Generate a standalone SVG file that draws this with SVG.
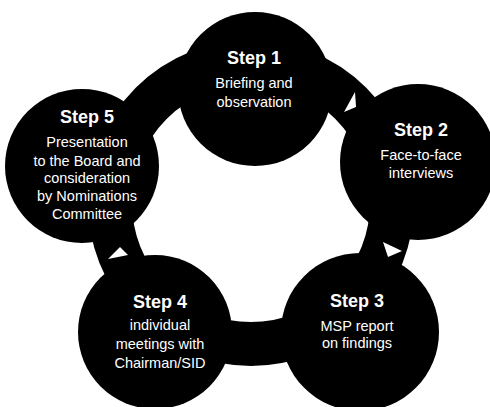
<svg xmlns="http://www.w3.org/2000/svg" width="490" height="407" viewBox="0 0 490 407">
<style>
.node circle{fill:#000}
.t{font-family:"Liberation Sans",Arial,sans-serif;fill:#fff;text-anchor:middle}
.h{font-size:18px;font-weight:bold}
.b{font-size:14.5px}
.ah{fill:#fff}
</style>
<rect width="490" height="407" fill="#fff"/>
<g id="connectors">
<circle cx="251" cy="203" r="141" fill="none" stroke="#000" stroke-width="44"/>
<polygon class="ah" points="355,92 344,112 356,107"/>
<polygon class="ah" points="383,242 402,251 388,257"/>
<polygon class="ah" points="120,247 108,259 128,255"/>
</g>
<g id="step1" class="node">
<circle cx="255" cy="89" r="77"/>
<text class="t h" x="254" y="64">Step 1</text>
<text class="t b" x="254" y="88">Briefing and</text>
<text class="t b" x="254" y="107">observation</text>
</g>
<g id="step2" class="node">
<circle cx="418" cy="162" r="78"/>
<text class="t h" x="421" y="136">Step 2</text>
<text class="t b" x="421" y="160">Face-to-face</text>
<text class="t b" x="421" y="178">interviews</text>
</g>
<g id="step3" class="node">
<circle cx="360" cy="332" r="79"/>
<text class="t h" x="357" y="307">Step 3</text>
<text class="t b" x="357" y="331">MSP report</text>
<text class="t b" x="357" y="348">on findings</text>
</g>
<g id="step4" class="node">
<circle cx="155" cy="332" r="77"/>
<text class="t h" x="160" y="308">Step 4</text>
<text class="t b" x="160" y="330">individual</text>
<text class="t b" x="160" y="349">meetings with</text>
<text class="t b" x="160" y="368">Chairman/SID</text>
</g>
<g id="step5" class="node">
<circle cx="82" cy="166" r="77"/>
<text class="t h" x="87" y="123">Step 5</text>
<text class="t b" x="87" y="147">Presentation</text>
<text class="t b" x="87" y="166">to the Board and</text>
<text class="t b" x="87" y="183">consideration</text>
<text class="t b" x="87" y="201">by Nominations</text>
<text class="t b" x="87" y="219">Committee</text>
</g>
</svg>
